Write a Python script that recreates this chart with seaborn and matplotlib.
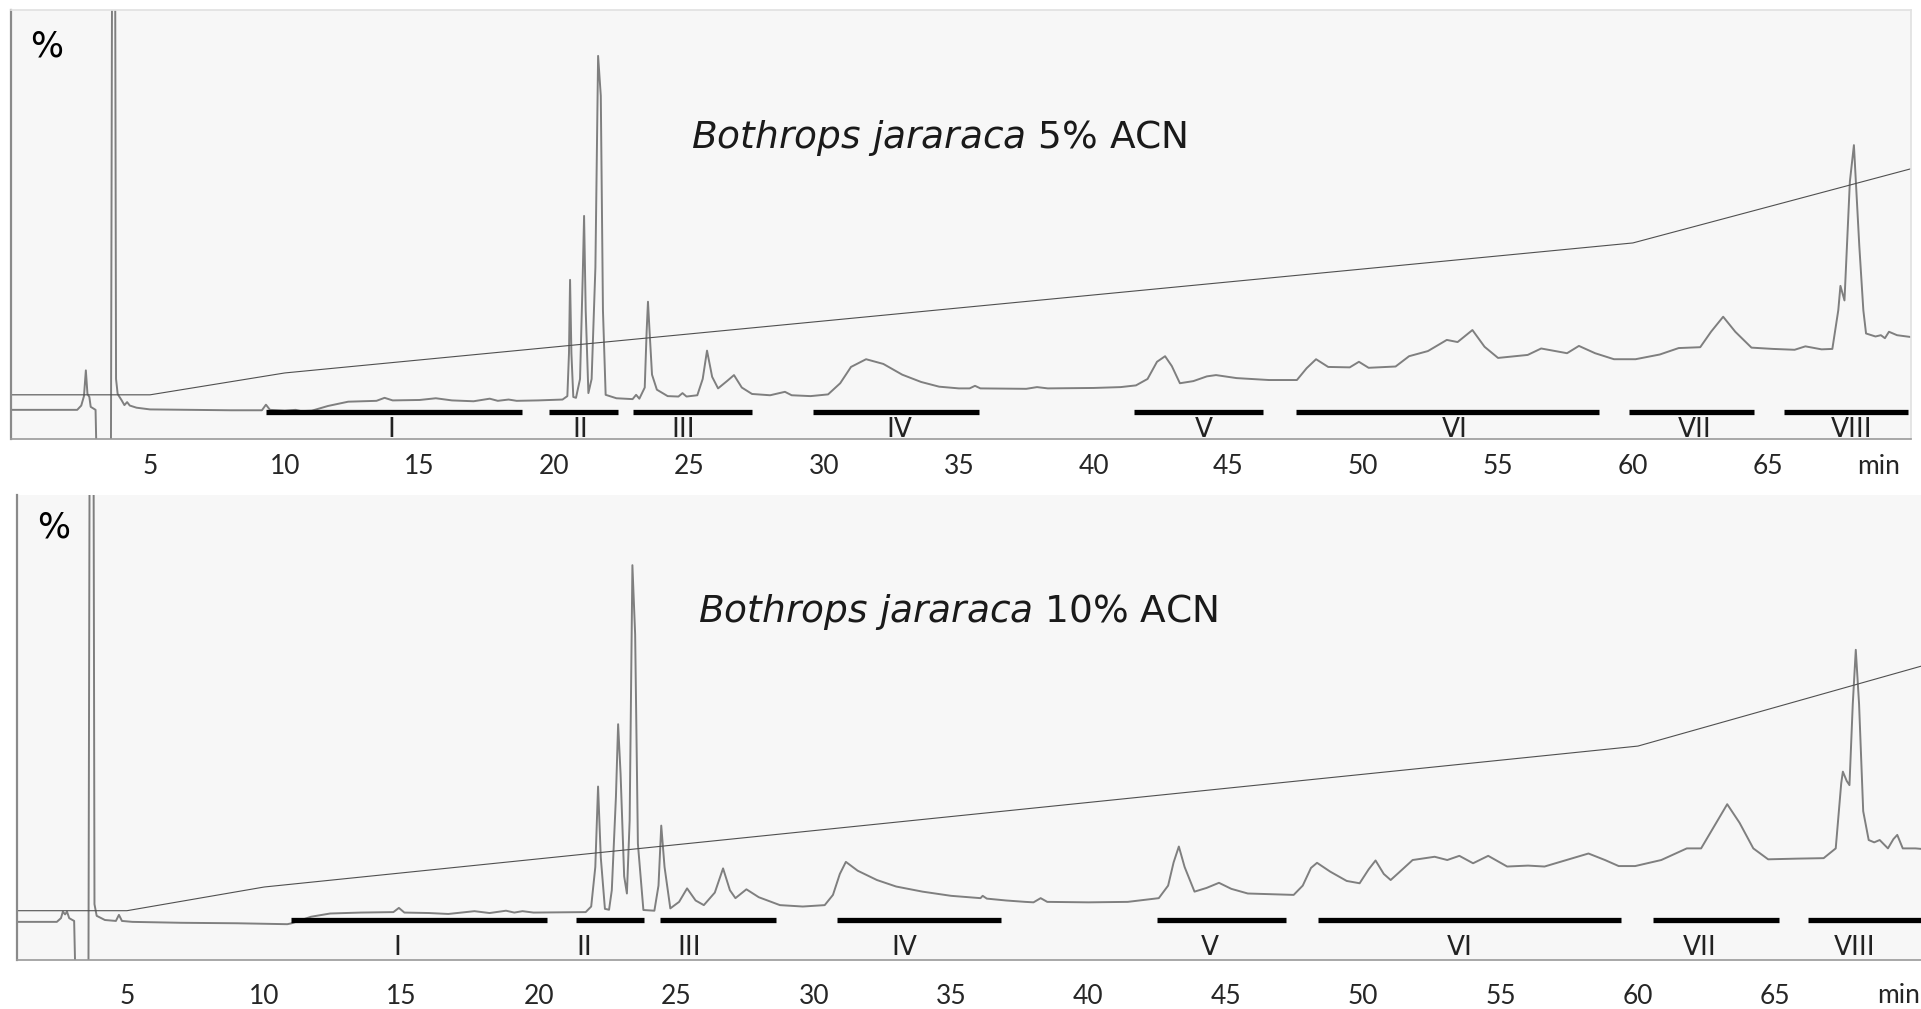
import numpy as np
import pandas as pd
import seaborn as sns
import matplotlib.pyplot as plt

# --- trace data (time in min, signal in % of full scale) ---
top_time = [-0.2, 2.3, 2.45, 2.55, 2.62, 2.68, 2.75, 2.8, 2.98, 3.02, 3.55, 3.6, 3.7, 3.74, 3.8,
            3.95, 4.05, 4.15, 4.25, 4.5, 5.0, 6.5, 8.0, 9.15, 9.3, 9.45, 10.0, 10.4, 10.6, 11.0,
            11.6, 12.35, 13.4, 13.7, 14.0, 15.0, 15.6, 16.2, 17.0, 17.6, 17.9, 18.3, 18.6, 19.4,
            20.3, 20.48, 20.54, 20.58, 20.63, 20.7, 20.8, 20.95, 21.05, 21.1, 21.16, 21.26, 21.38,
            21.52, 21.62, 21.72, 21.8, 21.9, 22.3, 22.9, 23.03, 23.15, 23.35, 23.42, 23.47, 23.53,
            23.62, 23.8, 24.2, 24.6, 24.75, 24.9, 25.3, 25.5, 25.66, 25.85, 26.07, 26.4, 26.66,
            26.95, 27.33, 28.0, 28.55, 28.8, 29.5, 30.15, 30.6, 31.0, 31.56, 32.2, 32.9, 33.6,
            34.27, 35.0, 35.4, 35.6, 35.8, 37.5, 37.9, 38.3, 40.0, 41.0, 41.57, 42.0, 42.35, 42.65,
            42.9, 43.2, 43.7, 44.2, 44.54, 45.3, 46.5, 47.54, 47.9, 48.25, 48.7, 49.5, 49.84, 50.2,
            51.2, 51.7, 52.4, 53.1, 53.5, 54.05, 54.5, 55.0, 56.1, 56.6, 57.56, 58.0, 58.6, 59.3,
            60.1, 61.0, 61.7, 62.5, 62.9, 63.35, 63.8, 64.4, 65.2, 66.0, 66.4, 67.0, 67.4, 67.62,
            67.7, 67.85, 68.05, 68.2, 68.4, 68.55, 68.65, 69.0, 69.2, 69.35, 69.5, 69.8, 70.4]
top_signal = [6.8, 6.8, 7.8, 10.0, 16.0, 10.5, 9.8, 7.5, 6.8, -5, -5, 130, 130, 14, 10.5,
              9.0, 7.9, 8.6, 7.8, 7.3, 6.9, 6.8, 6.7, 6.7, 8.0, 6.8, 6.6, 6.8, 6.5, 6.6,
              7.7, 8.7, 8.9, 9.6, 9.0, 9.1, 9.5, 9.0, 8.8, 9.4, 8.9, 9.2, 8.9, 9.0,
              9.2, 10.0, 20, 37.1, 20, 9.8, 9.6, 14, 38, 52.0, 30, 10.7, 14,
              40, 89.3, 80, 30, 10.3, 9.5, 9.3, 10.3, 9.4, 12, 25, 32.0, 25,
              15, 11.5, 10.0, 9.9, 10.7, 9.9, 10.2, 14.0, 20.6, 14.5, 11.8, 13.5, 14.9,
              12.0, 10.5, 10.2, 11.0, 10.2, 10.0, 10.4, 13.0, 16.8, 18.6, 17.5, 15.0, 13.3,
              12.2, 11.8, 11.8, 12.4, 11.8, 11.7, 12.1, 11.8, 11.9, 12.1, 12.5, 14.0, 18.0, 19.3,
              17.0, 13.0, 13.5, 14.6, 14.9, 14.2, 13.75, 13.75, 16.5, 18.6, 16.8, 16.7, 18.0, 16.6,
              16.9, 19.3, 20.5, 23.1, 22.6, 25.4, 21.5, 18.9, 19.6, 21.1, 20.0, 21.7, 20.0, 18.6,
              18.6, 19.7, 21.2, 21.4, 25.0, 28.5, 25.0, 21.3, 21.0, 20.8, 21.6, 20.9, 21.0, 30,
              35.7, 32.3, 60, 68.5, 45, 30, 24.6, 23.9, 24.2, 23.5, 25.0, 24.2, 23.7]

bot_time = [1.0, 2.45, 2.6, 2.67, 2.75, 2.82, 2.9, 3.08, 3.13, 3.6, 3.65, 3.78, 3.82, 3.9, 4.2,
            4.6, 4.71, 4.82, 5.2, 7.0, 9.0, 10.84, 11.0, 11.7, 12.4, 13.5, 14.7, 14.9, 15.1, 16.0,
            16.7, 17.65, 18.2, 18.8, 19.1, 19.4, 19.8, 21.0, 21.7, 21.9, 22.05, 22.15, 22.25, 22.4,
            22.55, 22.65, 22.8, 22.88, 22.97, 23.1, 23.2, 23.3, 23.4, 23.5, 23.6, 23.8, 24.2,
            24.35, 24.45, 24.57, 24.78, 25.1, 25.39, 25.7, 26.0, 26.4, 26.7, 26.95, 27.15, 27.55,
            28.0, 28.77, 29.6, 30.4, 30.7, 30.95, 31.17, 31.6, 32.3, 33.0, 33.96, 35.0, 36.07,
            36.15, 36.3, 37.0, 37.7, 38.0, 38.26, 38.5, 40.0, 41.43, 42.56, 42.9, 43.1, 43.29,
            43.5, 43.86, 44.3, 44.75, 45.2, 45.8, 47.47, 47.8, 48.1, 48.32, 48.8, 49.4, 49.87,
            50.2, 50.45, 50.75, 51.0, 51.3, 51.8, 52.6, 53.06, 53.5, 54.0, 54.55, 55.24, 56.0,
            56.6, 57.4, 58.2, 58.8, 59.3, 59.9, 60.85, 61.78, 62.3, 62.8, 63.25, 63.7, 64.2,
            64.74, 65.8, 66.76, 67.2, 67.4, 67.46, 67.6, 67.7, 67.82, 67.93, 68.05, 68.2, 68.4,
            68.6, 68.8, 69.1, 69.3, 69.44, 69.64, 70.1, 70.5]
bot_signal = [8.2, 8.2, 9.0, 10.4, 9.8, 10.4, 9.0, 8.4, -5, -5, 130, 130, 12, 9.5, 8.6,
              8.4, 9.7, 8.4, 8.2, 8.0, 7.9, 7.7, 7.9, 9.3, 10.0, 10.2, 10.3, 11.2, 10.2, 10.1,
              9.9, 10.5, 10.1, 10.6, 10.2, 10.5, 10.2, 10.25, 10.3, 11.5, 20, 37.3, 22, 11,
              10.8, 15, 35, 50.7, 40, 18, 14.3, 30, 84.9, 70, 25, 10.75, 10.6,
              16, 28.9, 20, 11.1, 12.5, 15.4, 12.8, 11.8, 14.5, 19.7, 15.0, 13.3, 15.2,
              13.5, 11.8, 11.5, 11.8, 14.0, 18.5, 21.1, 19.2, 17.2, 15.8, 14.7, 13.8, 13.3,
              13.8, 13.2, 12.8, 12.5, 12.4, 13.3, 12.5, 12.4, 12.5, 13.3, 16.0, 21.0, 24.4,
              20.0, 14.7, 15.5, 16.6, 15.3, 14.3, 14.0, 16.0, 19.8, 20.9, 19.0, 17.0, 16.5,
              19.5, 21.4, 18.5, 17.2, 18.8, 21.5, 22.2, 21.5, 22.4, 20.8, 22.4, 20.1, 20.3,
              20.1, 21.5, 22.9, 21.5, 20.2, 20.2, 21.5, 24.0, 24.0, 29.0, 33.5, 29.5, 24.0,
              21.65, 21.8, 21.9, 24.0, 38.0, 40.5, 38.5, 37.6, 55, 66.7, 55, 32, 25.8,
              25.3, 25.8, 24.0, 26.0, 26.9, 24.0, 24.0, 23.8]

# acetonitrile gradient breakpoints
grad_time = [-0.2, 5, 10, 60, 70.5]
top_grad = [10.3, 10.3, 15.4, 45.7, 63.3]
bot_grad = [10.6, 10.6, 15.7, 46.0, 63.5]

# collected fractions
fraction_names = ['I', 'II', 'III', 'IV', 'V', 'VI', 'VII', 'VIII']
top_frac_start = [9.3, 19.8, 22.9, 29.6, 41.5, 47.5, 59.86, 65.6]
top_frac_end = [18.8, 22.36, 27.33, 35.75, 46.3, 58.75, 64.5, 70.2]
top_frac_mid = [13.94, 20.95, 24.77, 32.8, 44.1, 53.4, 62.3, 68.1]
bot_frac_start = [10.96, 21.33, 24.42, 30.85, 42.5, 48.35, 60.56, 66.2]
bot_frac_end = [20.3, 23.84, 28.64, 36.8, 47.2, 59.4, 65.15, 70.6]
bot_frac_mid = [14.85, 21.65, 25.47, 33.3, 44.4, 53.5, 62.24, 67.9]

tick_minutes = [5, 10, 15, 20, 25, 30, 35, 40, 45, 50, 55, 60, 65]

TRACE = '#7f7f7f'
GRAD = '#505050'


def draw_panel(ax, time, signal, grad, starts, ends, mids, cfg):
    ax.set_facecolor('#f7f7f7')
    df = pd.DataFrame({'t': time, 's': signal})
    sns.lineplot(data=df, x='t', y='s', ax=ax, color=TRACE, lw=1.4,
                 estimator=None, sort=False)
    sns.lineplot(x=grad_time, y=grad, ax=ax, color=GRAD, lw=0.8,
                 estimator=None, sort=False)

    # fraction bars + roman numerals sitting on the time axis
    ax.hlines([cfg['bar_y']] * len(starts), starts, ends, color='black',
              lw=3.8, capstyle='butt')
    for name, m in zip(fraction_names, mids):
        ax.text(m, cfg['label_y'], name, ha='center', va='baseline',
                fontsize=19, color='#222222', family='DejaVu Sans')

    ax.text(cfg['title_xy'][0], cfg['title_xy'][1],
            r'$\it{Bothrops\ jararaca}$ ' + cfg['acn'],
            ha='center', va='center', fontsize=27, color='#1a1a1a',
            family='DejaVu Sans')
    ax.text(0.019, cfg['pct_y'], '%', transform=ax.transAxes, ha='center',
            va='center', fontsize=25, color='black', family='DejaVu Sans')

    ax.set_xlim(*cfg['xlim'])
    ax.set_ylim(0, 100)
    ax.set_xticks(tick_minutes)
    ax.set_xticklabels([str(t) for t in tick_minutes])
    ax.set_xticks(np.arange(1, 71), minor=True)
    ax.set_yticks([])
    ax.set_xlabel('')
    ax.set_ylabel('')
    ax.tick_params(axis='x', which='major', direction='out', length=3,
                   width=0.8, color='#888888', pad=cfg['pad'], labelsize=19)
    ax.tick_params(axis='x', which='minor', direction='out', length=2,
                   width=0.8, color='#888888')
    for lab in ax.get_xticklabels():
        lab.set_family('Lato')
    ax.annotate('min', xy=(cfg['min_x'], 0), xycoords=('data', 'axes fraction'),
                xytext=(0, -cfg['min_off']), textcoords='offset points',
                ha='center', va='center', fontsize=19, family='Lato',
                annotation_clip=False)

    ax.spines['left'].set_color('#8a8a8a')
    ax.spines['left'].set_linewidth(1.6)
    ax.spines['bottom'].set_color('#9a9a9a')
    ax.spines['bottom'].set_linewidth(1.2)
    ax.spines['top'].set_color('#e2e2e2')
    ax.spines['right'].set_color('#e2e2e2')
    for sp in ['top', 'right']:
        ax.spines[sp].set_visible(cfg['box'])


sns.set_theme(style='white')
plt.rcParams['font.family'] = ['DejaVu Sans']
plt.rcParams['mathtext.fontset'] = 'dejavusans'

fig = plt.figure(figsize=(19.21, 10.09), dpi=100)
fig.patch.set_facecolor('white')

ax_top = fig.add_axes([0.00573, 0.5649, 0.9891, 0.4252])
ax_bot = fig.add_axes([0.00885, 0.04856, 0.99324, 0.4609])

draw_panel(ax_top, top_time, top_signal, top_grad, top_frac_start, top_frac_end,
           top_frac_mid,
           dict(xlim=(-0.156, 70.32), bar_y=6.3, label_y=0.5, title_xy=(34.27, 70.2),
                acn='5% ACN', pct_y=0.914, pad=8, min_x=69.1, min_off=20, box=True))
draw_panel(ax_bot, bot_time, bot_signal, bot_grad, bot_frac_start, bot_frac_end,
           bot_frac_mid,
           dict(xlim=(1.073, 70.45), bar_y=8.6, label_y=1.1, title_xy=(35.25, 74.8),
                acn='10% ACN', pct_y=0.929, pad=14, min_x=69.5, min_off=25.5, box=False))

fig.savefig('out.png', dpi=100, facecolor='white')
